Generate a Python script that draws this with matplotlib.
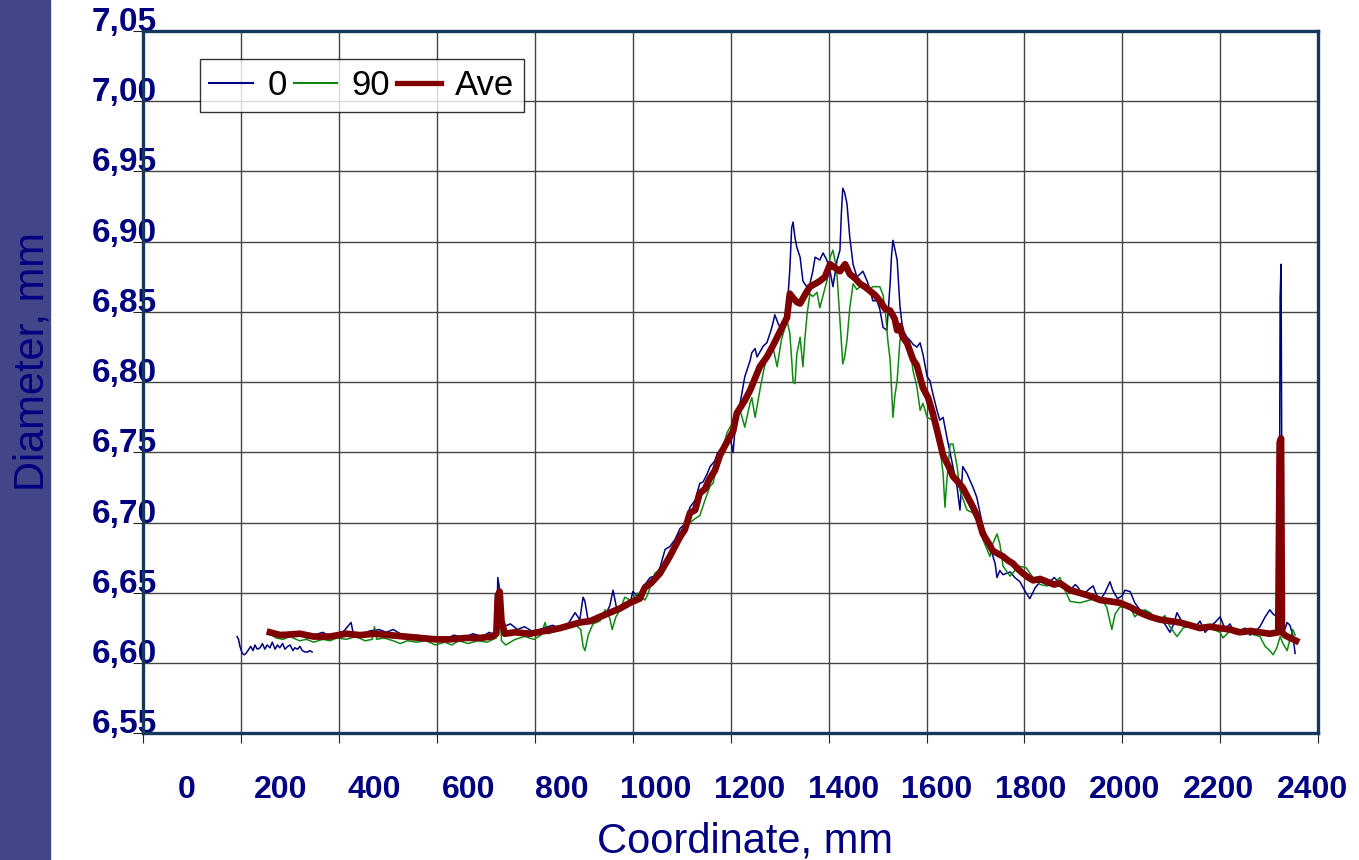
import numpy as np
import matplotlib.pyplot as plt
from matplotlib.patches import Rectangle

plt.rcParams['font.family'] = ['Liberation Sans', 'DejaVu Sans']

# ---- data ----
# series "0": short separate piece at the start
x_0a = [107, 110, 113, 118, 122, 126, 130, 136, 141, 145, 150, 156, 161, 166, 171, 177, 182,
        188, 193, 198, 204, 209, 215, 220, 226, 230, 236, 241, 246, 252, 258, 262, 267]
d_0a = [6.619, 6.617, 6.612, 6.607, 6.606, 6.607, 6.609, 6.612, 6.609, 6.613, 6.610, 6.611,
        6.614, 6.610, 6.613, 6.611, 6.615, 6.610, 6.613, 6.611, 6.614, 6.610, 6.612, 6.613,
        6.609, 6.611, 6.610, 6.612, 6.609, 6.608, 6.608, 6.609, 6.608]

# series "0": main run
x_0 = [177, 190, 205, 220, 240, 255, 270, 290, 305, 320, 335, 350, 355, 370, 390, 410, 425,
       440, 455, 470, 490, 510, 530, 550, 570, 590, 610, 630, 645, 655, 661, 663, 666, 669,
       675, 690, 705, 720, 740, 760, 780, 800, 815, 828, 838, 845, 849, 856, 866, 881, 895,
       902, 909, 916, 924, 934, 945, 951, 960, 966, 977, 988, 998, 1009, 1020, 1030, 1041,
       1052, 1062, 1073, 1084, 1094, 1101, 1110, 1116, 1126, 1131, 1137, 1148, 1158, 1165,
       1170, 1180, 1190, 1201, 1205, 1212, 1216, 1230, 1237, 1245, 1250, 1254, 1262, 1271,
       1280, 1286, 1290, 1293, 1297, 1301, 1308, 1314, 1322, 1329, 1335, 1340, 1350, 1357,
       1365, 1372, 1378, 1387, 1393, 1396, 1399, 1403, 1408, 1414, 1421, 1429, 1436, 1442,
       1451, 1457, 1463, 1472, 1478, 1485, 1493, 1500, 1503, 1506, 1510, 1515, 1521, 1527,
       1536, 1542, 1549, 1557, 1564, 1570, 1579, 1585, 1591, 1600, 1606, 1613, 1621, 1634,
       1643, 1649, 1655, 1664, 1677, 1685, 1698, 1713, 1724, 1728, 1734, 1741, 1756, 1766,
       1777, 1790, 1798, 1810, 1820, 1835, 1850, 1862, 1873, 1884, 1895, 1901, 1910, 1916,
       1925, 1933, 1940, 1948, 1958, 1969, 1975, 1985, 1995, 2001, 2012, 2022, 2033, 2044,
       2054, 2065, 2076, 2086, 2097, 2105, 2112, 2125, 2140, 2150, 2161, 2172, 2182, 2193,
       2204, 2215, 2225, 2236, 2246, 2257, 2268, 2280, 2289, 2300, 2310, 2317, 2325, 2330,
       2332, 2334, 2336, 2338, 2342, 2347, 2353, 2359, 2364]
d_0 = [6.623, 6.620, 6.622, 6.619, 6.621, 6.618, 6.620, 6.622, 6.619, 6.621, 6.623, 6.629,
       6.621, 6.620, 6.623, 6.624, 6.622, 6.624, 6.621, 6.619, 6.620, 6.618, 6.619, 6.617,
       6.620, 6.618, 6.621, 6.619, 6.622, 6.620, 6.622, 6.661, 6.655, 6.632, 6.626, 6.628,
       6.624, 6.626, 6.622, 6.625, 6.627, 6.624, 6.629, 6.636, 6.631, 6.647, 6.644, 6.630,
       6.628, 6.632, 6.636, 6.641, 6.652, 6.640, 6.637, 6.643, 6.642, 6.651, 6.648, 6.650,
       6.656, 6.661, 6.662, 6.668, 6.681, 6.683, 6.688, 6.696, 6.699, 6.711, 6.716, 6.728,
       6.729, 6.735, 6.740, 6.744, 6.749, 6.752, 6.756, 6.762, 6.750, 6.770, 6.785, 6.804,
       6.815, 6.821, 6.824, 6.818, 6.826, 6.828, 6.836, 6.842, 6.848, 6.841, 6.837, 6.851,
       6.880, 6.910, 6.914, 6.903, 6.896, 6.889, 6.872, 6.868, 6.870, 6.879, 6.889, 6.887,
       6.892, 6.887, 6.879, 6.868, 6.887, 6.894, 6.920, 6.938, 6.935, 6.927, 6.903, 6.884,
       6.875, 6.877, 6.879, 6.872, 6.866, 6.858, 6.858, 6.852, 6.839, 6.837, 6.870, 6.890,
       6.901, 6.895, 6.887, 6.854, 6.837, 6.832, 6.830, 6.827, 6.825, 6.828, 6.820, 6.804,
       6.801, 6.792, 6.780, 6.773, 6.775, 6.761, 6.740, 6.725, 6.709, 6.740, 6.735, 6.725,
       6.718, 6.697, 6.683, 6.671, 6.661, 6.666, 6.663, 6.665, 6.661, 6.658, 6.650, 6.646,
       6.654, 6.658, 6.656, 6.661, 6.657, 6.654, 6.652, 6.656, 6.654, 6.649, 6.650, 6.653,
       6.655, 6.649, 6.645, 6.650, 6.658, 6.652, 6.646, 6.648, 6.652, 6.651, 6.643, 6.638,
       6.637, 6.636, 6.633, 6.631, 6.628, 6.622, 6.628, 6.636, 6.628, 6.627, 6.625, 6.630,
       6.622, 6.626, 6.629, 6.633, 6.624, 6.628, 6.621, 6.623, 6.625, 6.620, 6.623, 6.626,
       6.633, 6.638, 6.635, 6.633, 6.628, 6.860, 6.884, 6.700, 6.624, 6.624, 6.629, 6.627,
       6.620, 6.607]

# series "90"
x_90 = [177, 190, 205, 220, 240, 255, 270, 290, 305, 320, 340, 360, 380, 395, 400, 405, 420,
        440, 455, 470, 490, 510, 530, 550, 565, 580, 600, 620, 640, 660, 663, 667, 671, 680,
        700, 720, 740, 755, 764, 770, 790, 810, 830, 840, 845, 849, 856, 866, 881, 892, 902,
        907, 915, 924, 934, 945, 951, 960, 966, 977, 983, 998, 1009, 1020, 1030, 1041, 1058,
        1073, 1084, 1094, 1105, 1116, 1122, 1131, 1137, 1152, 1165, 1180, 1190, 1201, 1205,
        1212, 1222, 1230, 1237, 1250, 1259, 1268, 1280, 1286, 1290, 1293, 1297, 1301, 1308,
        1314, 1318, 1323, 1329, 1335, 1344, 1350, 1357, 1365, 1372, 1378, 1384, 1387, 1393,
        1399, 1403, 1408, 1414, 1421, 1429, 1436, 1451, 1463, 1478, 1485, 1490, 1495, 1500,
        1506, 1510, 1515, 1521, 1527, 1536, 1542, 1549, 1557, 1564, 1570, 1579, 1591, 1600,
        1606, 1613, 1617, 1621, 1628, 1634, 1643, 1649, 1664, 1677, 1692, 1698, 1713, 1719,
        1728, 1734, 1741, 1756, 1766, 1777, 1790, 1805, 1820, 1835, 1850, 1862, 1873, 1884,
        1905, 1926, 1948, 1962, 1969, 1973, 1980, 1990, 2012, 2022, 2033, 2044, 2054, 2065,
        2076, 2086, 2097, 2112, 2125, 2140, 2161, 2182, 2204, 2210, 2225, 2246, 2268, 2289,
        2300, 2310, 2317, 2325, 2332, 2338, 2347, 2353, 2359, 2364]
d_90 = [6.621, 6.618, 6.617, 6.619, 6.616, 6.617, 6.615, 6.617, 6.616, 6.618, 6.617, 6.619,
        6.616, 6.617, 6.626, 6.617, 6.618, 6.616, 6.614, 6.616, 6.615, 6.616, 6.613, 6.615,
        6.613, 6.616, 6.614, 6.616, 6.615, 6.618, 6.641, 6.640, 6.616, 6.613, 6.617, 6.619,
        6.617, 6.620, 6.629, 6.621, 6.623, 6.625, 6.627, 6.624, 6.612, 6.609, 6.620, 6.628,
        6.630, 6.638, 6.632, 6.624, 6.633, 6.638, 6.647, 6.645, 6.645, 6.650, 6.648, 6.645,
        6.649, 6.664, 6.667, 6.670, 6.675, 6.684, 6.695, 6.700, 6.703, 6.705, 6.716, 6.726,
        6.728, 6.740, 6.746, 6.764, 6.772, 6.780, 6.768, 6.785, 6.789, 6.775, 6.794, 6.808,
        6.818, 6.825, 6.811, 6.830, 6.844, 6.835, 6.816, 6.800, 6.799, 6.820, 6.832, 6.811,
        6.830, 6.849, 6.863, 6.861, 6.864, 6.853, 6.862, 6.872, 6.889, 6.894, 6.884, 6.875,
        6.844, 6.813, 6.818, 6.830, 6.853, 6.870, 6.866, 6.868, 6.865, 6.868, 6.868, 6.862,
        6.850, 6.830, 6.816, 6.775, 6.790, 6.801, 6.830, 6.833, 6.829, 6.826, 6.808, 6.797,
        6.780, 6.785, 6.775, 6.773, 6.766, 6.754, 6.735, 6.711, 6.730, 6.756, 6.756, 6.740,
        6.723, 6.709, 6.707, 6.700, 6.688, 6.676, 6.685, 6.692, 6.685, 6.669, 6.662, 6.666,
        6.669, 6.668, 6.661, 6.656, 6.655, 6.657, 6.661, 6.652, 6.644, 6.643, 6.645, 6.647,
        6.640, 6.630, 6.624, 6.635, 6.640, 6.640, 6.633, 6.637, 6.638, 6.636, 6.631, 6.630,
        6.634, 6.626, 6.619, 6.625, 6.627, 6.624, 6.625, 6.622, 6.618, 6.623, 6.624, 6.621,
        6.619, 6.612, 6.609, 6.606, 6.611, 6.619, 6.614, 6.609, 6.617, 6.624, 6.620]

# series "Ave"
x_ave = [177, 200, 241, 270, 305, 340, 369, 400, 433, 465, 497, 530, 561, 595, 625, 650, 660,
         663, 667, 671, 678, 700, 732, 764, 796, 817, 838, 860, 881, 902, 924, 945, 966, 977,
         990, 1009, 1030, 1052, 1062, 1073, 1084, 1094, 1105, 1116, 1126, 1137, 1148, 1158,
         1165, 1173, 1190, 1201, 1212, 1222, 1237, 1250, 1265, 1280, 1286, 1293, 1301, 1308,
         1318, 1329, 1340, 1350, 1361, 1372, 1380, 1393, 1404, 1414, 1425, 1436, 1446, 1457,
         1468, 1478, 1490, 1500, 1510, 1515, 1521, 1527, 1536, 1549, 1557, 1570, 1581, 1591,
         1600, 1613, 1625, 1634, 1645, 1655, 1666, 1677, 1688, 1698, 1709, 1719, 1730, 1741,
         1752, 1762, 1773, 1783, 1795, 1805, 1820, 1835, 1850, 1862, 1884, 1905, 1925, 1948,
         1970, 1990, 2012, 2033, 2055, 2076, 2097, 2118, 2140, 2161, 2182, 2204, 2225, 2246,
         2268, 2289, 2310, 2328, 2331, 2334, 2336, 2342, 2353, 2360, 2366]
d_ave = [6.622, 6.620, 6.621, 6.619, 6.619, 6.621, 6.620, 6.621, 6.620, 6.619, 6.618, 6.617,
         6.617, 6.618, 6.618, 6.619, 6.621, 6.648, 6.651, 6.630, 6.621, 6.622, 6.621, 6.623,
         6.625, 6.627, 6.629, 6.630, 6.633, 6.636, 6.639, 6.643, 6.646, 6.654, 6.657, 6.664,
         6.676, 6.690, 6.695, 6.707, 6.709, 6.721, 6.724, 6.732, 6.737, 6.748, 6.755, 6.761,
         6.765, 6.778, 6.787, 6.794, 6.803, 6.811, 6.818, 6.826, 6.836, 6.846, 6.863, 6.860,
         6.857, 6.856, 6.862, 6.868, 6.870, 6.872, 6.875, 6.884, 6.882, 6.879, 6.884, 6.877,
         6.874, 6.870, 6.868, 6.865, 6.862, 6.858, 6.852, 6.851, 6.845, 6.837, 6.840, 6.832,
         6.828, 6.816, 6.812, 6.796, 6.789, 6.778, 6.766, 6.748, 6.740, 6.733, 6.729, 6.725,
         6.718, 6.711, 6.703, 6.692, 6.686, 6.680, 6.678, 6.676, 6.673, 6.671, 6.667, 6.664,
         6.661, 6.659, 6.660, 6.658, 6.656, 6.657, 6.652, 6.650, 6.648, 6.645, 6.644, 6.643,
         6.640, 6.636, 6.633, 6.631, 6.630, 6.629, 6.627, 6.625, 6.626, 6.625, 6.624, 6.622,
         6.623, 6.622, 6.621, 6.622, 6.757, 6.760, 6.622, 6.620, 6.618, 6.617, 6.616]

xtick_vals = [0, 200, 400, 600, 800, 1000, 1200, 1400, 1600, 1800, 2000, 2200, 2400]
ytick_vals = [6.55, 6.60, 6.65, 6.70, 6.75, 6.80, 6.85, 6.90, 6.95, 7.00, 7.05]
ytick_labels = ['6,55', '6,60', '6,65', '6,70', '6,75', '6,80', '6,85', '6,90', '6,95',
                '7,00', '7,05']

navy = '#000080'
frame = '#14395c'

fig = plt.figure(figsize=(13.59, 8.60), dpi=100)
fig.patches.append(Rectangle((0, 0), 50 / 1359, 1, transform=fig.transFigure,
                             color='#424588', zorder=0))

ax = fig.add_axes([0.1055, 0.1471, 0.8644, 0.8169])
ax.plot(x_0a, d_0a, color='#000080', lw=1.1, zorder=3)
ax.plot(x_0, d_0, color='#000080', lw=1.1, label='0', zorder=3)
ax.plot(x_90, d_90, color='#118811', lw=1.1, label='90', zorder=3)
ax.plot(x_ave, d_ave, color='#800000', lw=4.8, label='Ave', zorder=4)

ax.set_xlim(-93, 2413)
ax.set_ylim(6.55, 7.05)

# gridlines / tick marks every 1/12 of the axis, labels placed separately
ax.set_xticks(np.linspace(-93, 2413, 13), labels=[''] * 13)
ax.set_xticks(xtick_vals, labels=[str(v) for v in xtick_vals], minor=True)
ax.tick_params(axis='x', which='major', length=7.5, width=0.8, color='#222222', direction='out')
ax.tick_params(axis='x', which='minor', length=0, pad=30, labelsize=23, labelcolor=navy)
for lbl in ax.get_xticklabels(minor=True):
    lbl.set_fontweight('bold')

ax.set_yticks(ytick_vals, labels=ytick_labels)
ax.tick_params(axis='y', length=7.5, width=0.8, color='#222222', direction='out',
               pad=-17, labelsize=24, labelcolor=navy)
for lbl in ax.get_yticklabels():
    lbl.set_fontweight('bold')
    lbl.set_verticalalignment('baseline')

ax.grid(True, which='major', color='#444444', lw=1.0)
ax.set_axisbelow(True)
for s in ax.spines.values():
    s.set_color(frame)
    s.set_linewidth(2.4)

leg = ax.legend(loc='upper left', bbox_to_anchor=(0.048, 0.960), borderaxespad=0,
                ncol=3, fontsize=25, frameon=True, fancybox=False, handlelength=1.25,
                handletextpad=0.42, columnspacing=0.2, borderpad=0.28)
leg.get_frame().set_edgecolor('black')
leg.get_frame().set_linewidth(1.0)
for line in leg.get_lines()[:2]:
    line.set_linewidth(1.5)
leg.get_lines()[2].set_linewidth(3.8)

fig.text(0.548, 0.009, 'Coordinate, mm', ha='center', va='baseline', fontsize=30, color=navy)
fig.text(32.5 / 1359, 1 - 362 / 860, 'Diameter, mm', ha='center', va='center',
         rotation=90, fontsize=30, color=navy)

fig.savefig('out.png', dpi=100)
